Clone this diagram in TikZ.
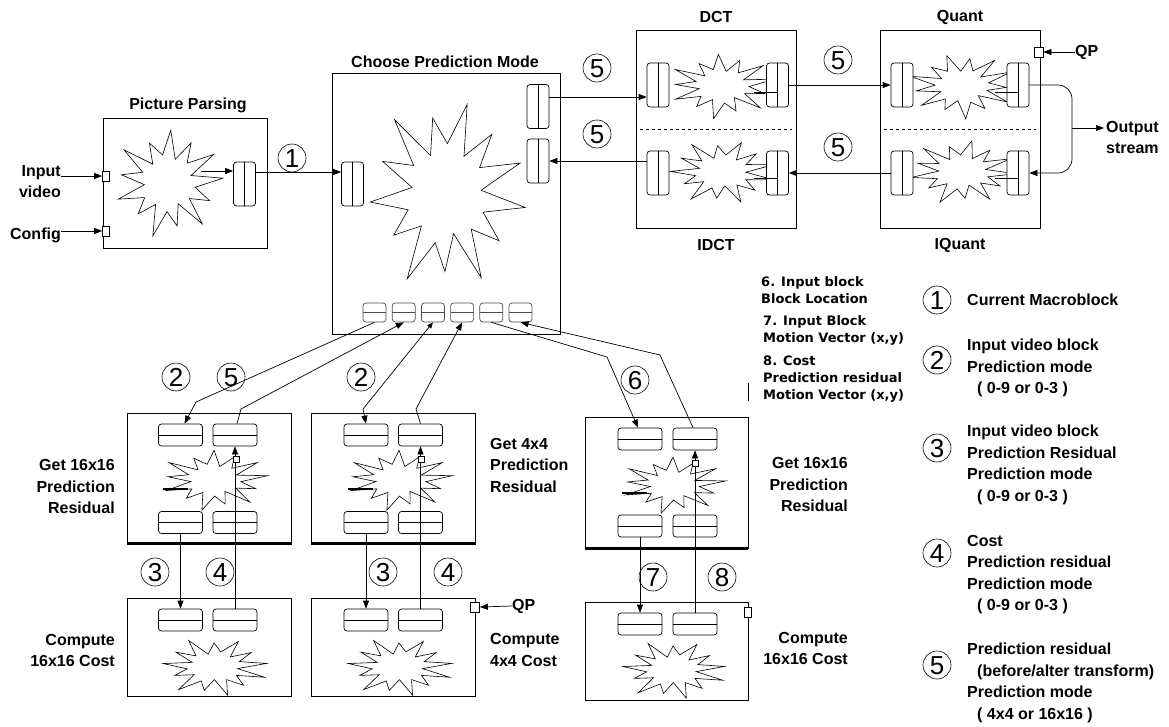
\documentclass[tikz,border=0pt]{standalone}
\usepackage{fontspec}
\setmainfont{Liberation Sans}
\newfontfamily\dvsans{DejaVu Sans}
\usetikzlibrary{arrows.meta}
\begin{document}
\begin{tikzpicture}[x=1pt,y=-1pt]
\tikzset{
  blk/.style={draw, line width=0.8pt, inner sep=0pt},
  vport/.style={draw, fill=white, line width=0.7pt, rounded corners=3pt, minimum width=22pt, minimum height=44pt, inner sep=0pt,
     path picture={\draw[line width=0.7pt] (path picture bounding box.north) -- (path picture bounding box.south);}},
  hport/.style={draw, fill=white, line width=0.7pt, rounded corners=3pt, minimum width=44pt, minimum height=22pt, inner sep=0pt,
     path picture={\draw[line width=0.7pt] (path picture bounding box.west) -- (path picture bounding box.east);}},
  sport/.style={hport, minimum width=23pt, minimum height=19pt, draw=black!70},
  num/.style={circle, draw, line width=0.6pt, minimum size=28pt, inner sep=0pt, font=\fontsize{26}{26}\selectfont, text height=18.6pt, text depth=0pt},
  lbl/.style={font=\fontsize{16}{21.5}\selectfont\bfseries, inner sep=0pt},
  note/.style={font=\dvsans\fontsize{13}{17}\selectfont\bfseries, inner sep=0pt, align=left, anchor=west},
  arr/.style={-{Triangle[length=8pt,width=6pt]}, line width=0.7pt},
  sq/.style={draw, fill=white, line width=0.7pt, inner sep=0pt, minimum width=7pt, minimum height=10pt},
  tiny/.style={draw, fill=white, line width=0.6pt, inner sep=0pt, minimum size=6pt},
  stub/.style={line width=1.6pt},
  pics/burst/.style n args={3}{code={
    \draw[line width=0.6pt, xscale=#1, yscale=#2, rotate=#3]
      (0:1) -- (14:0.5) -- (28:0.82) -- (41:0.48) -- (55:0.97) -- (69:0.42) -- (83:0.8) -- (97:0.52)
      -- (111:1) -- (125:0.45) -- (139:0.78) -- (153:0.5) -- (167:0.95) -- (181:0.43) -- (195:0.86)
      -- (208:0.5) -- (222:1) -- (236:0.44) -- (250:0.8) -- (264:0.52) -- (278:0.96) -- (292:0.45)
      -- (305:0.84) -- (319:0.5) -- (333:0.98) -- (347:0.44) -- cycle;
  }},
}
\fill[white] (0,0) rectangle (1169,727);
\path[use as bounding box] (0,0) rectangle (1169,727);

% ---------------- Picture Parsing
\node[lbl] (tpp) at (188,105) {Picture Parsing};
\node[blk, minimum width=164pt, minimum height=130pt] (pp) at (185,183) {};
\pic at (168,183) {burst={55}{55}{5}};
\node[vport] (ppo) at (244.5,184) {};
\node[sq] (ivs) at (106,176) {};
\node[sq] (cfs) at (106,231) {};
\node[lbl, align=right, anchor=east] (ivl) at (61,181.5) {Input\\video};
\node[lbl, anchor=east] (cfl) at (61,235) {Config};
\draw[arr] (ivs.west -| ivl.east) -- (ivs.west);
\draw[arr] (cfs.west -| cfl.east) -- (cfs.west);
\coordinate (ppa) at (201,171);
\draw[arr] (ppa) -- (ppa -| ppo.west);
\node[num] (n1) at (292,158) {1};

% ---------------- Choose Prediction Mode
\node[lbl] (tcpm) at (445,62) {Choose Prediction Mode};
\node[blk, minimum width=228pt, minimum height=261pt] (cpm) at (446,203.5) {};
\pic at (446,194) {burst={80}{97}{-8}};
\node[vport] (cpml) at (352.5,184) {};
\node[vport] (cpmu) at (538,106.5) {};
\node[vport] (cpmd) at (538,161) {};
\foreach \i in {1,...,6} \node[sport] (cp\i) at ({374.5+29.2*(\i-1)},312.5) {};
\draw[arr] ([yshift=12pt]ppo.east) -- ([yshift=12pt]cpml.west);

% ---------------- DCT / IDCT
\node[lbl] (tdct) at (716,17) {DCT};
\node[lbl] (tidct) at (716,245) {IDCT};
\node[blk, minimum width=160pt, minimum height=198pt] (dct) at (716,129) {};
\draw[dashed, line width=0.8pt] ([xshift=4pt]dct.west) -- ([xshift=-4pt]dct.east);
\pic at (722,86) {burst={54}{33}{12}};
\pic at (722,172) {burst={54}{33}{-14}};
\node[vport] (dctul) at (658,85) {};
\node[vport] (dctur) at (777.5,85) {};
\node[vport] (dctdl) at (658,173) {};
\node[vport] (dctdr) at (777.5,173) {};
\coordinate (s1) at (754,92);
\coordinate (s2) at (754,178);
\draw[line width=0.8pt] (s1) -- (s1 -| dctur.center);
\draw[line width=0.8pt] (s2) -- (s2 -| dctdr.center);

% ---------------- Quant / IQuant
\node[lbl] (tq) at (960,17) {Quant};
\node[lbl] (tiq) at (960,245) {IQuant};
\node[blk, minimum width=160pt, minimum height=198pt] (qt) at (960,129) {};
\draw[dashed, line width=0.8pt] ([xshift=4pt]qt.west) -- ([xshift=-4pt]qt.east);
\pic at (962,86) {burst={54}{33}{25}};
\pic at (962,172) {burst={54}{33}{-3}};
\node[vport] (qul) at (902,85) {};
\node[vport] (qur) at (1018,85) {};
\node[vport] (qdl) at (902,173) {};
\node[vport] (qdr) at (1018,173) {};
\coordinate (s3) at (995,92);
\coordinate (s4) at (995,178);
\draw[line width=0.8pt] (s3) -- (s3 -| qur.center);
\draw[line width=0.8pt] (s4) -- (s4 -| qdr.center);
\node[sq, minimum width=9pt] (qps) at (1038.5,52) {};
\node[lbl, anchor=west] (qpl) at (1075,52) {QP};
\draw[arr] (qpl.west) -- (qps.east);

% top connectors
\draw[arr] ([yshift=9.5pt]cpmu.east) -- ([yshift=9.5pt]cpmu.east -| dctul.west);
\draw[arr] (dctdl.west |- cpmd.east) -- (cpmd.east);
\draw[arr] (dctur.east) -- (qul.west);
\draw[arr] (qdl.west) -- (dctdr.east);
\node[lbl, align=left, anchor=west] (outl) at (1106,137.5) {Output\\stream};
\coordinate (oj) at (1072,128);
\draw[arr, rounded corners=14pt] (qur.east) -- (qur.east -| oj) -- (qdr.east -| oj) -- (qdr.east);
\draw[arr] (oj) -- ([xshift=-2pt]oj -| outl.west);
\node[num] (n5a) at (597,68) {5};
\node[num] (n5b) at (597,134) {5};
\node[num] (n5c) at (838,60) {5};
\node[num] (n5d) at (838,147) {5};

% ---------------- bottom boxes
\node[blk, minimum width=164pt, minimum height=130pt] (ga) at (209.5,478) {};
\node[blk, minimum width=164pt, minimum height=130pt] (gb) at (393.5,478) {};
\node[blk, minimum width=163pt, minimum height=131pt] (gc) at (666.5,482.5) {};
\draw[line width=2.2pt] (ga.south west) -- (ga.south east);
\draw[line width=2.2pt] (gb.south west) -- (gb.south east);
\draw[line width=2.2pt] (gc.south west) -- (gc.south east);
\node[blk, minimum width=164pt, minimum height=98pt] (cda) at (209.5,647) {};
\node[blk, minimum width=164pt, minimum height=98pt] (cdb) at (393.5,647) {};
\node[blk, minimum width=163pt, minimum height=98pt] (cdc) at (666.5,651) {};

\pic at (214,480) {burst={54}{31}{8}};
\pic at (399,480) {burst={54}{31}{8}};
\pic at (673,485) {burst={53}{29}{8}};
\pic at (214,667) {burst={54}{30}{-20}};
\pic at (399,667) {burst={54}{30}{-20}};
\pic at (673,670) {burst={53}{30}{-20}};

\node[hport] (atl) at (180.5,435) {};
\node[hport] (atr) at (235,435) {};
\node[hport] (abl) at (180.5,522.5) {};
\node[hport] (abr) at (235,522.5) {};
\node[hport] (btl) at (366,435) {};
\node[hport] (btr) at (420.5,435) {};
\node[hport] (bbl) at (366,522.5) {};
\node[hport] (bbr) at (420.5,522.5) {};
\node[hport] (ctl) at (640,439) {};
\node[hport] (ctr) at (695,439) {};
\node[hport] (cbl) at (640,526) {};
\node[hport] (cbr) at (695,526) {};
\node[hport] (dtl) at (180.5,620) {};
\node[hport] (dtr) at (235,620) {};
\node[hport] (etl) at (366,620) {};
\node[hport] (etr) at (420.5,620) {};
\node[hport] (ftl) at (640,624) {};
\node[hport] (ftr) at (695,624) {};

\draw[stub] (163,489) -- (188,489);
\draw[stub] (348,489) -- (373,489);
\draw[stub] (622,493) -- (647,493);

% vertical connectors
\draw[arr] (abl.south) -- (dtl.north);
\draw[arr] (dtr.north) -- (atr.south);
\draw[arr] (bbl.south) -- (etl.north);
\draw[arr] (etr.north) -- (btr.south);
\draw[arr] (cbl.south) -- (ftl.north);
\draw[arr] (ftr.north) -- (ctr.south);
\node[tiny] (qa) at (236,459) {};
\node[tiny] (qb) at (421.5,459) {};
\node[tiny] (qc) at (695.5,463) {};

% connectors from CPM
\coordinate (b1) at (196,402);
\coordinate (b2) at (241,409);
\coordinate (b3) at (363,409);
\coordinate (b4) at (416,409);
\coordinate (b5) at (607,357);
\coordinate (b6) at (660,355);
\draw[arr] (cp1.south) -- (b1) -- ([xshift=4pt]atl.north);
\draw[arr] ([xshift=2pt]atr.north) -- (b2) -- (cp2.south);
\draw[arr, {Triangle[length=6pt,width=5pt]}-{Triangle[length=8pt,width=6pt]}] (cp3.south) -- (b3) -- (btl.north);
\draw[arr] (btr.north) -- (b4) -- (cp4.south);
\draw[arr] (cp5.south) -- (b5) -- ([xshift=-2pt]ctl.north);
\draw[arr] ([xshift=-2pt]ctr.north) -- (b6) -- (cp6.south);
\coordinate (tk1) at (748,383);
\coordinate (tk2) at (748,401);
\draw[line width=0.8pt] (tk1) -- (tk2);

% QP / side squares
\node[sq, minimum width=9pt] (eqs) at (475,607) {};
\node[lbl, anchor=west] (eqpl) at (512,606) {QP};
\draw[arr] (eqpl.west) -- (eqs.east);
\node[sq] (fsq) at (748,612) {};

% numbered circles (bottom)
\node[num] (c2a) at (176,377) {2};
\node[num] (c5a) at (231,377) {5};
\node[num] (c2b) at (361,377) {2};
\node[num] (c6) at (635,380) {6};
\node[num] (c3a) at (155,572) {3};
\node[num] (c4a) at (220,572) {4};
\node[num] (c3b) at (383,572) {3};
\node[num] (c4b) at (448,572) {4};
\node[num] (c7) at (653,577) {7};
\node[num] (c8) at (722,577) {8};

% box labels
\node[lbl, align=right, anchor=east] (la) at (115,486.5) {Get 16x16\\Prediction\\Residual};
\node[lbl, align=right, anchor=east] (ld) at (115,650.5) {Compute\\16x16 Cost};
\node[lbl, align=left, anchor=west] (lb) at (490,465) {Get 4x4\\Prediction\\Residual};
\node[lbl, align=left, anchor=west] (le) at (490,650) {Compute\\4x4 Cost};
\node[lbl, align=right, anchor=east] (lc) at (848,484.5) {Get 16x16\\Prediction\\Residual};
\node[lbl, align=right, anchor=east] (lf) at (848,648.5) {Compute\\16x16 Cost};

% small notes
\node[note] (m6) at (761,290) {6. Input block\\Block Location};
\node[note] (m7) at (763,330.5) {7. Input Block\\Motion Vector (x,y)};
\node[note] (m8) at (763,379.5) {8. Cost\\Prediction residual\\Motion Vector (x,y)};

% legend
\node[num] (l1) at (937,300) {1};
\node[num] (l2) at (937,360) {2};
\node[num] (l3) at (937,448) {3};
\node[num] (l4) at (937,553) {4};
\node[num] (l5) at (937,665) {5};
\node[lbl, anchor=west] (t1) at (967,300) {Current Macroblock};
\node[lbl, anchor=west, align=left] (t2) at (967,368) {Input video block\\Prediction mode\\\hspace*{10pt}( 0-9 or 0-3 )};
\node[lbl, anchor=west, align=left] (t3) at (967,465) {Input video block\\Prediction Residual\\Prediction mode\\\hspace*{10pt}( 0-9 or 0-3 )};
\node[lbl, anchor=west, align=left] (t4) at (967,574.5) {Cost\\Prediction residual\\Prediction mode\\\hspace*{10pt}( 0-9 or 0-3 )};
\node[lbl, anchor=west, align=left] (t5) at (967,683) {Prediction residual\\\hspace*{10pt}(before/alter transform)\\Prediction mode\\\hspace*{10pt}( 4x4 or 16x16 )};
\end{tikzpicture}
\end{document}
